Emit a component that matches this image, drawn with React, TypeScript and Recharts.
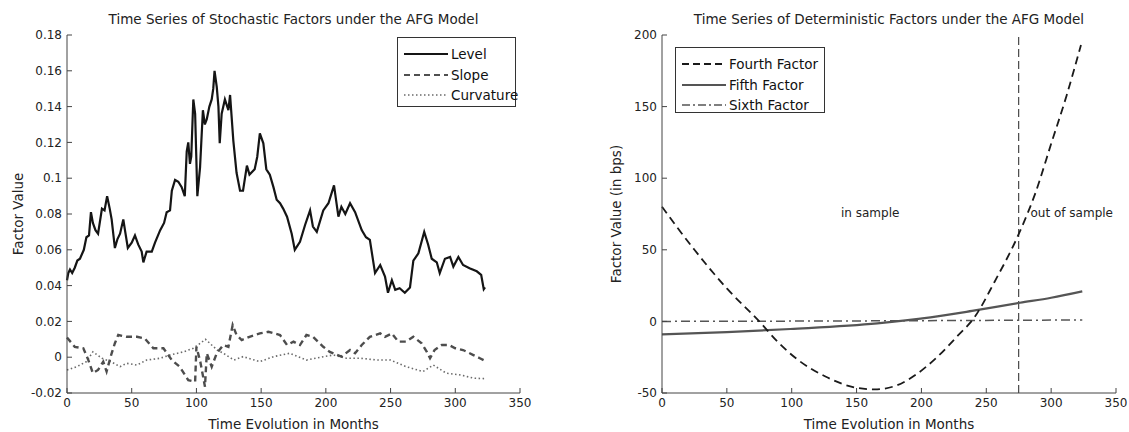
import React from "react";
import { LineChart, Line, XAxis, YAxis, ReferenceLine } from "recharts";

// months vs factor value
const levelPts: [number, number][] = [
  [0, 0.043], [1, 0.047], [2.3, 0.049], [4, 0.047], [6, 0.05], [8, 0.054], [10, 0.055], [13, 0.06], [15, 0.067],
  [17, 0.068], [18.5, 0.081], [20, 0.075], [22, 0.071], [24, 0.069], [27, 0.083], [29, 0.082], [31, 0.09],
  [33, 0.083], [34.5, 0.077], [37, 0.061], [39, 0.066], [41, 0.069], [43.5, 0.077], [45, 0.07], [47, 0.061],
  [50, 0.064], [52.5, 0.068], [55, 0.063], [57.7, 0.059], [59, 0.053], [61.5, 0.059], [65.5, 0.059], [68, 0.064],
  [72, 0.071], [75, 0.075], [77, 0.081], [79.6, 0.082], [81, 0.093], [83.5, 0.099], [86, 0.098], [88.6, 0.095],
  [91, 0.09], [92.5, 0.115], [93.7, 0.12], [95, 0.108], [96, 0.112], [97.6, 0.144], [99, 0.136], [100.7, 0.09],
  [102.8, 0.106], [105, 0.138], [106.5, 0.13], [108, 0.133], [110, 0.14], [111.8, 0.144], [113, 0.15],
  [114, 0.16], [115.7, 0.151], [117, 0.14], [118, 0.1195], [119.5, 0.136], [122, 0.144], [124.7, 0.138],
  [126, 0.1465], [128.5, 0.121], [131, 0.103], [133.7, 0.093], [136, 0.093], [139, 0.107], [141, 0.102],
  [145, 0.105], [147, 0.112], [149, 0.125], [151.7, 0.1195], [154, 0.105], [156.7, 0.102], [159.5, 0.095],
  [162, 0.088], [164.6, 0.086], [167, 0.083], [170, 0.0785], [173.6, 0.069], [176, 0.06], [180, 0.0645],
  [184, 0.074], [187.8, 0.082], [190, 0.073], [193, 0.07], [198, 0.082], [202, 0.086], [206.3, 0.096],
  [209.7, 0.0785], [212, 0.084], [215, 0.08], [218.7, 0.086], [222.6, 0.081], [227.7, 0.071], [231, 0.067],
  [234, 0.0655], [238, 0.047], [242, 0.0515], [245.7, 0.045], [248, 0.036], [251, 0.043], [253.6, 0.0376],
  [257, 0.0385], [261, 0.036], [265, 0.039], [267.6, 0.054], [271.5, 0.058], [276, 0.07], [279, 0.063],
  [281.8, 0.055], [285.7, 0.053], [288, 0.047], [292, 0.055], [296, 0.056], [298.5, 0.0506], [302.4, 0.056],
  [306, 0.0515], [311, 0.0497], [316.6, 0.048], [320, 0.046], [322, 0.038], [323, 0.039],
];

const slopePts: [number, number][] = [
  [0, 0.011], [6, 0.0058], [12.6, 0.005], [16.5, -0.0016], [20, -0.0089], [24, -0.0071], [28, -0.0025],
  [30.6, -0.008], [34.5, 0.0022], [37, 0.0078], [39.6, 0.0124], [46, 0.0114], [54, 0.0114], [60, 0.0105],
  [66.7, 0.005], [74.5, 0.005], [81, -0.0016], [87, -0.0053], [93.7, -0.0128], [99, -0.0137], [100, 0.0058],
  [103, -0.0025], [106.6, -0.0165], [108, 0.0022], [111.8, -0.0053], [115.7, 0.0022], [120.8, 0.0068],
  [124.7, 0.0058], [128, 0.018], [131, 0.0124], [135, 0.0096], [141, 0.0114], [149, 0.0133], [155.6, 0.0142],
  [164.6, 0.0124], [170, 0.0068], [175, 0.0087], [180, 0.0068], [185, 0.0124], [190, 0.0114], [198, 0.0058],
  [203, 0.003], [212, 0.0003], [218.7, 0.004], [222.6, 0.0022], [227.7, 0.0068], [234, 0.0114], [242, 0.0133],
  [245.7, 0.0114], [251, 0.0133], [256, 0.0087], [262, 0.0087], [267.6, 0.0114], [274, 0.0078], [278, 0.003],
  [280.5, -0.0006], [284, 0.004], [289.6, 0.0068], [295, 0.0068], [300, 0.005], [306, 0.004], [314, 0.0012],
  [319, -0.0006], [323, -0.002],
];

const curvaturePts: [number, number][] = [
  [0, -0.0072], [7.5, -0.0053], [15, -0.0025], [20, 0.003], [27, -0.0006], [34, -0.0025], [41, -0.0053],
  [46, -0.0034], [54, -0.0044], [61.5, -0.0016], [72, -0.0006], [79.6, 0.0012], [90, 0.003], [97.6, 0.005],
  [103, 0.0078], [107, 0.01], [116, 0.004], [120.8, 0.0022], [129, -0.0016], [136, 0.0003], [149, -0.0025],
  [159.5, 0.0003], [172, 0.0022], [185, -0.0016], [198, 0.0003], [206, 0.0012], [216, -0.0006], [227, -0.0006],
  [240, -0.0016], [250, -0.0016], [262, -0.0053], [275, -0.008], [283, -0.0044], [293, -0.0089], [304, -0.0099],
  [314, -0.0117], [323, -0.012],
];

// right panel, in bps
const fourthPts: [number, number][] = [
  [0, 80], [25, 50], [50, 23], [75, 0], [90, -15], [105, -27], [126, -38.5], [148, -46], [164, -47.5],
  [180, -45], [196, -37], [212, -25], [228, -10], [241, 3], [256, 27], [276, 63], [288, 90], [300, 124],
  [312, 158], [323, 193],
];
const fifthPts: [number, number][] = [
  [0, -9], [50, -7.5], [99, -5.3], [166, -1.4], [207, 2.8], [239, 7.3], [276, 13], [300, 16.5], [324, 21],
];
const sixthPts: [number, number][] = [[0, 0], [100, 0.2], [200, 0.5], [275, 0.8], [324, 1]];

const monthTicks = [0, 50, 100, 150, 200, 250, 300, 350];
const leftTicks = [-0.02, 0, 0.02, 0.04, 0.06, 0.08, 0.1, 0.12, 0.14, 0.16, 0.18];
const rightTicks = [-50, 0, 50, 100, 150, 200];
const sampleSplit = 275;

const FONT = "'DejaVu Sans', sans-serif";
const AXIS = "#444";
const toRows = (pts: [number, number][]) => pts.map(([m, v]) => ({ m, v }));
const fmt = (v: number) => String(parseFloat(v.toFixed(2)));
const blank = () => "";

type LegendItem = { name: string; color: string; dash?: string; width: number };

function BoxLegend({ items, left, top, w, h }: { items: LegendItem[]; left: number; top: number; w: number; h: number }) {
  return (
    <div style={{ position: "absolute", left, top, width: w, height: h, border: "1px solid #333", background: "#fff", boxSizing: "border-box", fontFamily: FONT, fontSize: 13.5 }}>
      {items.map((it, i) => (
        <div key={it.name} style={{ position: "absolute", left: 5, top: 6 + i * 20.5, height: 20, display: "flex", alignItems: "center", color: "#111", whiteSpace: "nowrap" }}>
          <svg width={46} height={10} style={{ marginRight: 2 }}>
            <line x1={1} y1={5} x2={45} y2={5} stroke={it.color} strokeWidth={it.width} strokeDasharray={it.dash} />
          </svg>
          {it.name}
        </div>
      ))}
    </div>
  );
}

const tickStyle = { fontFamily: FONT, fontSize: 12, fill: "#222" };
const labelStyle = { fontFamily: FONT, fontSize: 13.5, fill: "#222" };
const noteStyle = { fontFamily: FONT, fontSize: 12, fill: "#222" };

export default function App() {
  return (
    <div style={{ position: "absolute", left: 0, top: 0, width: 1129, height: 432, background: "#fff", overflow: "hidden" }}>
      <div style={{ position: "absolute", left: 67, top: 11, width: 453, textAlign: "center", fontFamily: FONT, fontSize: 13.5, color: "#222" }}>
        Time Series of Stochastic Factors under the AFG Model
      </div>
      <div style={{ position: "absolute", left: 0, top: 0 }}>
        <LineChart width={560} height={432} margin={{ top: 35, right: 40, left: 7, bottom: 3 }}>
          <XAxis dataKey="m" type="number" domain={[0, 350]} ticks={monthTicks} height={36} stroke={AXIS}
            tickSize={-5} tickMargin={10} tick={tickStyle} interval={0}
            label={{ value: "Time Evolution in Months", position: "insideBottom", offset: 0, style: labelStyle }} />
          <XAxis xAxisId="top" orientation="top" type="number" domain={[0, 350]} ticks={monthTicks} height={0}
            stroke={AXIS} tickSize={-5} tickFormatter={blank} interval={0} />
          <YAxis type="number" domain={[-0.02, 0.18]} ticks={leftTicks} width={60} stroke={AXIS} tickSize={-5}
            tickMargin={10} tick={tickStyle} tickFormatter={fmt} interval={0}
            label={{ value: "Factor Value", angle: -90, position: "insideLeft", offset: 11, style: { ...labelStyle, textAnchor: "middle" } }} />
          <YAxis yAxisId="right" orientation="right" type="number" domain={[-0.02, 0.18]} ticks={leftTicks} width={0}
            stroke={AXIS} tickSize={-5} tickFormatter={blank} interval={0} />
          <Line data={toRows(curvaturePts)} dataKey="v" stroke="#6a6a6a" strokeWidth={1.6} strokeDasharray="1.5 2.5" dot={false} isAnimationActive={false} />
          <Line data={toRows(slopePts)} dataKey="v" stroke="#4d4d4d" strokeWidth={2.4} strokeDasharray="6 4" dot={false} isAnimationActive={false} />
          <Line data={toRows(levelPts)} dataKey="v" stroke="#151515" strokeWidth={2.2} dot={false} isAnimationActive={false} />
        </LineChart>
      </div>
      <BoxLegend left={397} top={37} w={119} h={70} items={[
        { name: "Level", color: "#151515", width: 2 },
        { name: "Slope", color: "#505050", width: 2, dash: "6 4" },
        { name: "Curvature", color: "#6a6a6a", width: 1.3, dash: "1.5 2.5" },
      ]} />

      <div style={{ position: "absolute", left: 662, top: 11, width: 454, textAlign: "center", fontFamily: FONT, fontSize: 13.5, color: "#222" }}>
        Time Series of Deterministic Factors under the AFG Model
      </div>
      <div style={{ position: "absolute", left: 580, top: 0 }}>
        <LineChart width={549} height={432} margin={{ top: 35, right: 13, left: 22, bottom: 3 }}>
          <XAxis dataKey="m" type="number" domain={[0, 350]} ticks={monthTicks} height={36} stroke={AXIS}
            tickSize={-5} tickMargin={10} tick={tickStyle} interval={0}
            label={{ value: "Time Evolution in Months", position: "insideBottom", offset: 0, style: labelStyle }} />
          <XAxis xAxisId="top" orientation="top" type="number" domain={[0, 350]} ticks={monthTicks} height={0}
            stroke={AXIS} tickSize={-5} tickFormatter={blank} interval={0} />
          <YAxis type="number" domain={[-50, 200]} ticks={rightTicks} width={60} stroke={AXIS} tickSize={-5}
            tickMargin={10} tick={tickStyle} interval={0}
            label={{ value: "Factor Value (in bps)", angle: -90, position: "insideLeft", offset: 14, style: { ...labelStyle, textAnchor: "middle" } }} />
          <YAxis yAxisId="right" orientation="right" type="number" domain={[-50, 200]} ticks={rightTicks} width={0}
            stroke={AXIS} tickSize={-5} tickFormatter={blank} interval={0} />
          <ReferenceLine x={sampleSplit} stroke="#222" strokeWidth={1} strokeDasharray="8 4" />
          <ReferenceLine y={76} stroke="none" label={{ value: "in sample", position: "insideLeft", offset: 0, dx: 179, style: noteStyle }} />
          <ReferenceLine y={76} stroke="none" label={{ value: "out of sample", position: "insideRight", offset: 3, style: noteStyle }} />
          <Line type="monotone" data={toRows(sixthPts)} dataKey="v" stroke="#555" strokeWidth={1.5} strokeDasharray="9 4 2 4" dot={false} isAnimationActive={false} />
          <Line type="monotone" data={toRows(fifthPts)} dataKey="v" stroke="#555" strokeWidth={2.2} dot={false} isAnimationActive={false} />
          <Line type="monotone" data={toRows(fourthPts)} dataKey="v" stroke="#1a1a1a" strokeWidth={1.8} strokeDasharray="8 5" dot={false} isAnimationActive={false} />
        </LineChart>
      </div>
      <BoxLegend left={675} top={47} w={150} h={66} items={[
        { name: "Fourth Factor", color: "#1a1a1a", width: 2, dash: "7 4" },
        { name: "Fifth Factor", color: "#555", width: 2 },
        { name: "Sixth Factor", color: "#555", width: 1.5, dash: "8 3 2 3" },
      ]} />
    </div>
  );
}
